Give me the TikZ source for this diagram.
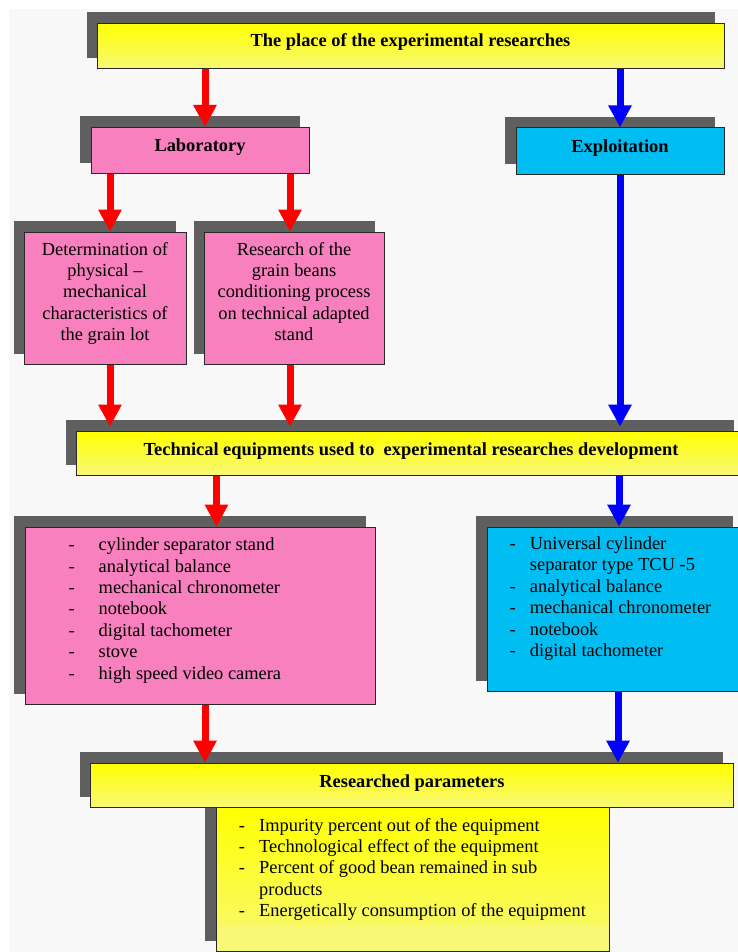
\documentclass[tikz,border=0pt]{standalone}
\usepackage{fontspec}
\setmainfont{Liberation Serif}
\usetikzlibrary{arrows.meta,backgrounds,calc}
\definecolor{bgc}{RGB}{248,248,248}
\definecolor{shadc}{RGB}{95,95,95}
\definecolor{bordc}{RGB}{40,40,40}
\definecolor{yel}{RGB}{255,255,0}
\definecolor{ylight}{RGB}{248,248,118}
\definecolor{pinkc}{RGB}{248,128,190}
\definecolor{cyanc}{RGB}{0,190,242}
\begin{document}
\begin{tikzpicture}[x=1pt,y=-1pt,
  box/.style={draw=bordc, line width=0.9pt, inner sep=0pt, anchor=north west},
  hdr/.style={box, top color=yel, bottom color=ylight},
  pinkbox/.style={box, fill=pinkc},
  cyanbox/.style={box, fill=cyanc},
  txt/.style={font=\fontsize{18.4}{21.4}\selectfont, inner sep=0pt, anchor=base},
  txtb/.style={font=\fontsize{18.4}{21.4}\selectfont\bfseries, inner sep=0pt, anchor=base},
  ra/.style={draw=red, line width=7pt, -{Triangle[width=22pt,length=22pt]}},
  ba/.style={draw=blue, line width=7pt, -{Triangle[width=22pt,length=22pt]}}]
\useasboundingbox (0,0) rectangle (738,952);
\clip (0,0) rectangle (738,952);

% boxes
\node[hdr, minimum width=627pt, minimum height=45pt] (title) at (97,23) {};
\node[pinkbox, minimum width=218.5pt, minimum height=46pt] (lab) at (90.5,127) {};
\node[cyanbox, minimum width=208.5pt, minimum height=46.5pt] (expl) at (515.5,127.5) {};
\node[pinkbox, minimum width=161.4pt, minimum height=132.3pt] (det) at (24.3,231.7) {};
\node[pinkbox, minimum width=180pt, minimum height=132.3pt] (res) at (204,231.7) {};
\node[hdr, minimum width=666.7pt, minimum height=44.3pt] (tech) at (76.3,430.7) {};
\node[pinkbox, minimum width=350.5pt, minimum height=177.3pt] (pinkl) at (24.5,526.7) {};
\node[cyanbox, minimum width=256pt, minimum height=164pt] (cyanl) at (486.5,526.7) {};
\node[box, fill=ylight, minimum width=393.3pt, minimum height=144pt,
  path picture={\shade[top color=yel,bottom color=ylight] (path picture bounding box.north west) rectangle ([yshift=26pt]path picture bounding box.south east);}] (par) at (215.7,807) {};
\node[hdr, minimum width=642.4pt, minimum height=44.3pt] (rp) at (90.3,762.7) {};

% texts
\node[txtb] (titlet) at (410.5,47) {The place of the experimental researches};
\node[txtb] (labt) at (200,152) {Laboratory};
\node[txtb] (explt) at (620,152.5) {Exploitation};
\node[txt] (dett) at (105,255) {\begin{tabular}[t]{@{}c@{}}Determination of\\physical --\\mechanical\\characteristics of\\the grain lot\end{tabular}};
\node[txt] (rest) at (294,255) {\begin{tabular}[t]{@{}c@{}}Research of the\\grain beans\\conditioning process\\on technical adapted\\stand\end{tabular}};
\node[txtb] (techt) at (411,455) {Technical equipments used to\ \ experimental researches development};
\node[txt, anchor=base west] (pinkt) at (68.3,550.7) {\begin{tabular}[t]{@{}l@{\hspace{24.1pt}}l@{}}
-&cylinder separator stand\\
-&analytical balance\\
-&mechanical chronometer\\
-&notebook\\
-&digital tachometer\\
-&stove\\
-&high speed video camera\end{tabular}};
\node[txt, anchor=base west] (cyant) at (509.3,549.5) {\begin{tabular}[t]{@{}l@{\hspace{14.3pt}}l@{}}
-&Universal cylinder\\
&separator type TCU -5\\
-&analytical balance\\
-&mechanical chronometer\\
-&notebook\\
-&digital tachometer\end{tabular}};
\node[txtb] (rpt) at (412,787) {Researched parameters};
\node[txt, anchor=base west] (part) at (238.6,831) {\begin{tabular}[t]{@{}l@{\hspace{14.3pt}}l@{}}
-&Impurity percent out of the equipment\\
-&Technological effect of the equipment\\
-&Percent of good bean remained in sub\\
&products\\
-&Energetically consumption of the equipment\end{tabular}};

% arrow x positions
\coordinate (xa) at (205,0);
\coordinate (xb) at (620,0);
\coordinate (xc) at (110,0);
\coordinate (xd) at (290,0);
\coordinate (xe) at (216.5,0);
\coordinate (xf) at (619,0);
\coordinate (xg) at (618,0);

% arrows
\draw[ra] (title.south -| xa) -- (lab.north -| xa);
\draw[ba] (title.south -| xb) -- (expl.north -| xb);
\draw[ra] (lab.south -| xc) -- (det.north -| xc);
\draw[ra] (lab.south -| xd) -- (res.north -| xd);
\draw[ba] (expl.south -| xb) -- ($(tech.north -| xb)+(0,-4)$);
\draw[ra] (det.south -| xc) -- ($(tech.north -| xc)+(0,-4)$);
\draw[ra] (res.south -| xd) -- ($(tech.north -| xd)+(0,-4)$);
\draw[ra] (tech.south -| xe) -- (pinkl.north -| xe);
\draw[ba] (tech.south -| xf) -- (cyanl.north -| xf);
\draw[ra] (pinkl.south -| xa) -- (rp.north -| xa);
\draw[ba] (cyanl.south -| xg) -- (rp.north -| xg);

% background and shadows
\begin{pgfonlayer}{background}
\fill[white] (0,0) rectangle (738,952);
\fill[bgc] (9,9) rectangle (738,952);
\foreach \n in {title,lab,expl,det,res,tech,pinkl,cyanl,par,rp}
  \fill[shadc] ([shift={(-10.3pt,10.6pt)}]\n.south west) rectangle ([shift={(-10.3pt,10.6pt)}]\n.north east);
\end{pgfonlayer}
\end{tikzpicture}
\end{document}
